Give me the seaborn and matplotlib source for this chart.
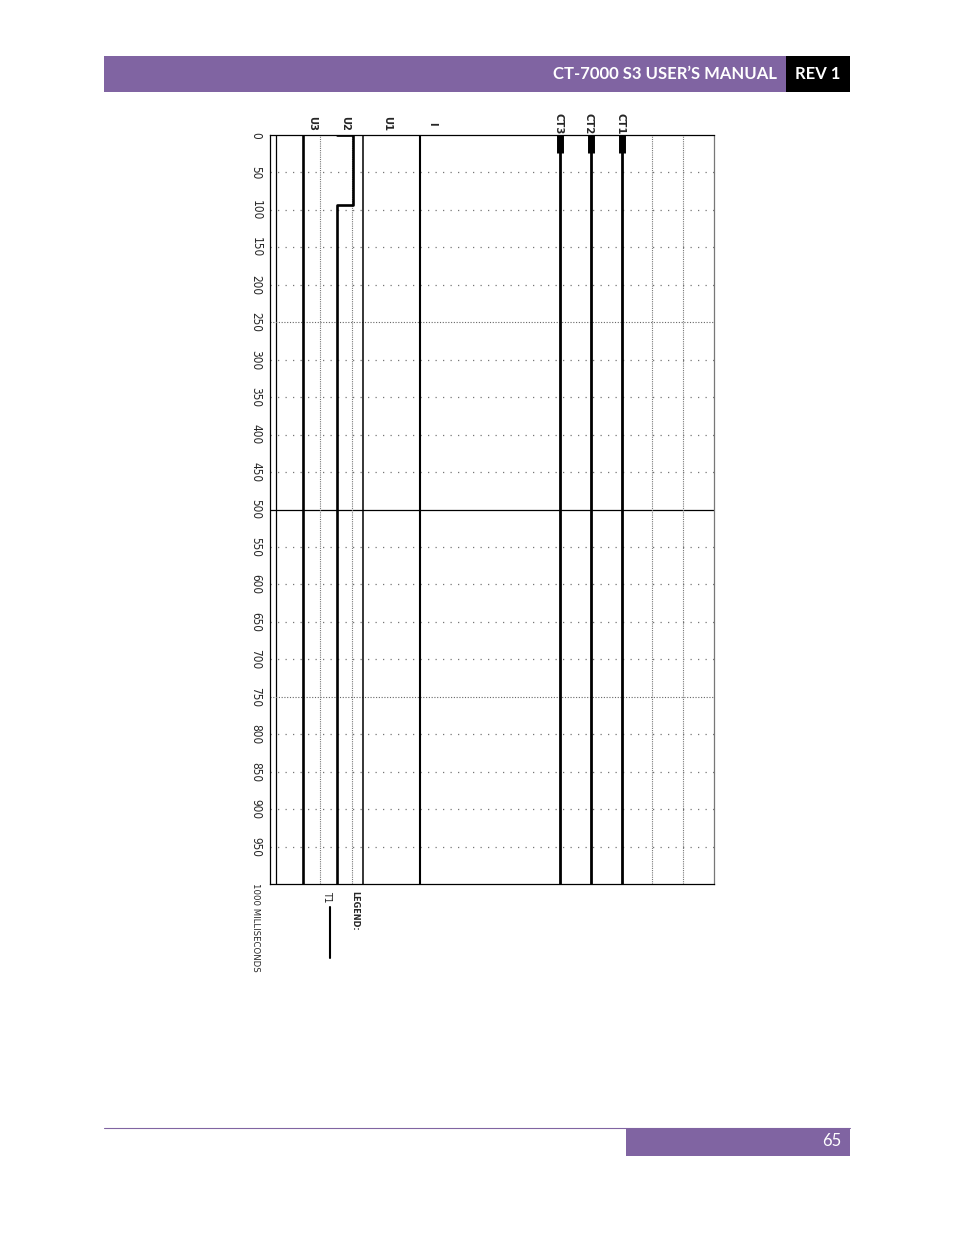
import numpy as np
import pandas as pd
import matplotlib
matplotlib.use("Agg")
import matplotlib.pyplot as plt
from matplotlib.patches import Rectangle
from matplotlib.lines import Line2D
import seaborn as sns

# --- chart data ---
channels = ["U3", "U2", "U1", "I", "CT3", "CT2", "CT1"]
trace_pos = [33, 67, 93, 150, 290, 321, 352]      # resting position of each trace
label_pos = [42, 75, 117, 162, 288, 319, 350]     # where the channel names sit
trace_width = [1.9, 1.9, 1.1, 1.5, 2.0, 2.0, 2.0]
u2_times = [0, 0, 93, 93, 1000]                   # ms
u2_levels = [0, 16, 16, 0, 0]                     # step above rest position
ct_flag_end = 24                                  # ms, thick start marker on CT traces
time_ticks = list(range(0, 1000, 50))
end_label = "1000 MILLISECONDS"

W, H = 954, 1235
PURPLE = "#8064a2"

sns.set_style("white")
plt.rcParams["font.family"] = ["DejaVu Sans"]

COND = dict(family=["DejaVu Sans"], fontstretch="condensed")


def fx(x):
    return x / W


def fy(y):
    return 1 - y / H


fig = plt.figure(figsize=(W / 100, H / 100), dpi=100)

# header / footer of the manual page
fig.add_artist(Rectangle((fx(104), fy(92)), fx(786 - 104), (92 - 56) / H,
                         transform=fig.transFigure, color=PURPLE, lw=0))
fig.add_artist(Rectangle((fx(786), fy(92)), fx(850 - 786), (92 - 56) / H,
                         transform=fig.transFigure, color="black", lw=0))
fig.text(fx(777), fy(74), "CT-7000 S3 USER\u2019S MANUAL", color="white", fontsize=12,
         fontweight="bold", family=["Lato", "DejaVu Sans"], ha="right", va="center")
fig.text(fx(818), fy(74), "REV 1", color="white", fontsize=12, fontweight="bold",
         family=["Lato", "DejaVu Sans"], ha="center", va="center")
fig.add_artist(Line2D([fx(104), fx(850)], [fy(1128), fy(1128)], transform=fig.transFigure,
                      color=PURPLE, lw=0.8))
fig.add_artist(Rectangle((fx(626), fy(1156)), fx(850 - 626), (1156 - 1128) / H,
                         transform=fig.transFigure, color=PURPLE, lw=0))
fig.text(fx(841), fy(1141), "65", color="white", fontsize=12,
         family=["Lato", "DejaVu Sans"], ha="right", va="center")

# chart area
ax = fig.add_axes([fx(270), fy(884), fx(714 - 270), (884 - 135) / H])
ax.set_xlim(0, 444)
ax.set_ylim(1000, 0)
ax.set_xticks([])
ax.set_yticks([])
for side in ["top", "bottom", "left"]:
    ax.spines[side].set_color("black")
    ax.spines[side].set_linewidth(0.9)
ax.spines["right"].set_color("#777777")
ax.spines["right"].set_linestyle((0, (1, 1)))
ax.spines["right"].set_linewidth(0.9)
ax.axvline(6, color="black", lw=0.9)

# grid
for t in time_ticks[1:]:
    if t == 500:
        ax.axhline(t, color="black", lw=0.9)
    elif t in (250, 750):
        ax.axhline(t, color="#666666", lw=0.8, ls=(0, (1, 1.5)))
    else:
        ax.axhline(t, color="#777777", lw=0.9, ls=(0, (1, 5)))
for x in [50, 82, 382, 413]:
    ax.axvline(x, color="#777777", lw=0.8, ls=(0, (1, 1)))

# traces
rows = []
for name, pos in zip(channels, trace_pos):
    if name == "U2":
        for t, lv in zip(u2_times, u2_levels):
            rows.append((name, t, pos + lv))
    else:
        rows.append((name, 0, pos))
        rows.append((name, 1000, pos))
df = pd.DataFrame(rows, columns=["channel", "time", "level"])

for name, lw in zip(channels, trace_width):
    sub = df[df["channel"] == name]
    sns.lineplot(data=sub, x="level", y="time", sort=False, estimator=None,
                 color="black", lw=lw, ax=ax, legend=False)

flags = pd.DataFrame([(n, t, p) for n, p in zip(channels, trace_pos) if n.startswith("CT")
                      for t in (0, ct_flag_end)], columns=["channel", "time", "level"])
for name in flags["channel"].unique():
    sns.lineplot(data=flags[flags["channel"] == name], x="level", y="time", sort=False,
                 estimator=None, color="black", lw=5, ax=ax, legend=False,
                 solid_capstyle="butt")
ax.set_xlabel("")
ax.set_ylabel("")

# channel names above the chart
for name, xl in zip(channels, label_pos):
    ax.text(xl, -15, name, rotation=-90, ha="center", va="center", fontsize=8,
            fontweight="bold", clip_on=False, **COND)

# time labels, rotated like the original print-out
for t in time_ticks:
    ax.text(-14, t, str(t), rotation=-90, ha="center", va="center", fontsize=8.5,
            clip_on=False, **COND)
ax.text(-14, 998, end_label, rotation=-90, ha="center", va="top", fontsize=6.8,
        clip_on=False, **COND)

# legend block
ax.text(85, 1010, "LEGEND:", rotation=-90, ha="center", va="top", fontsize=6.5,
        fontweight="bold", clip_on=False, **COND)
ax.text(57, 1010, "T1", rotation=-90, ha="center", va="top", fontsize=7.5, clip_on=False,
        **COND)
ax.plot([60, 60], [1031, 1099], color="black", lw=1.5, clip_on=False)

fig.savefig("out.png", dpi=100)
